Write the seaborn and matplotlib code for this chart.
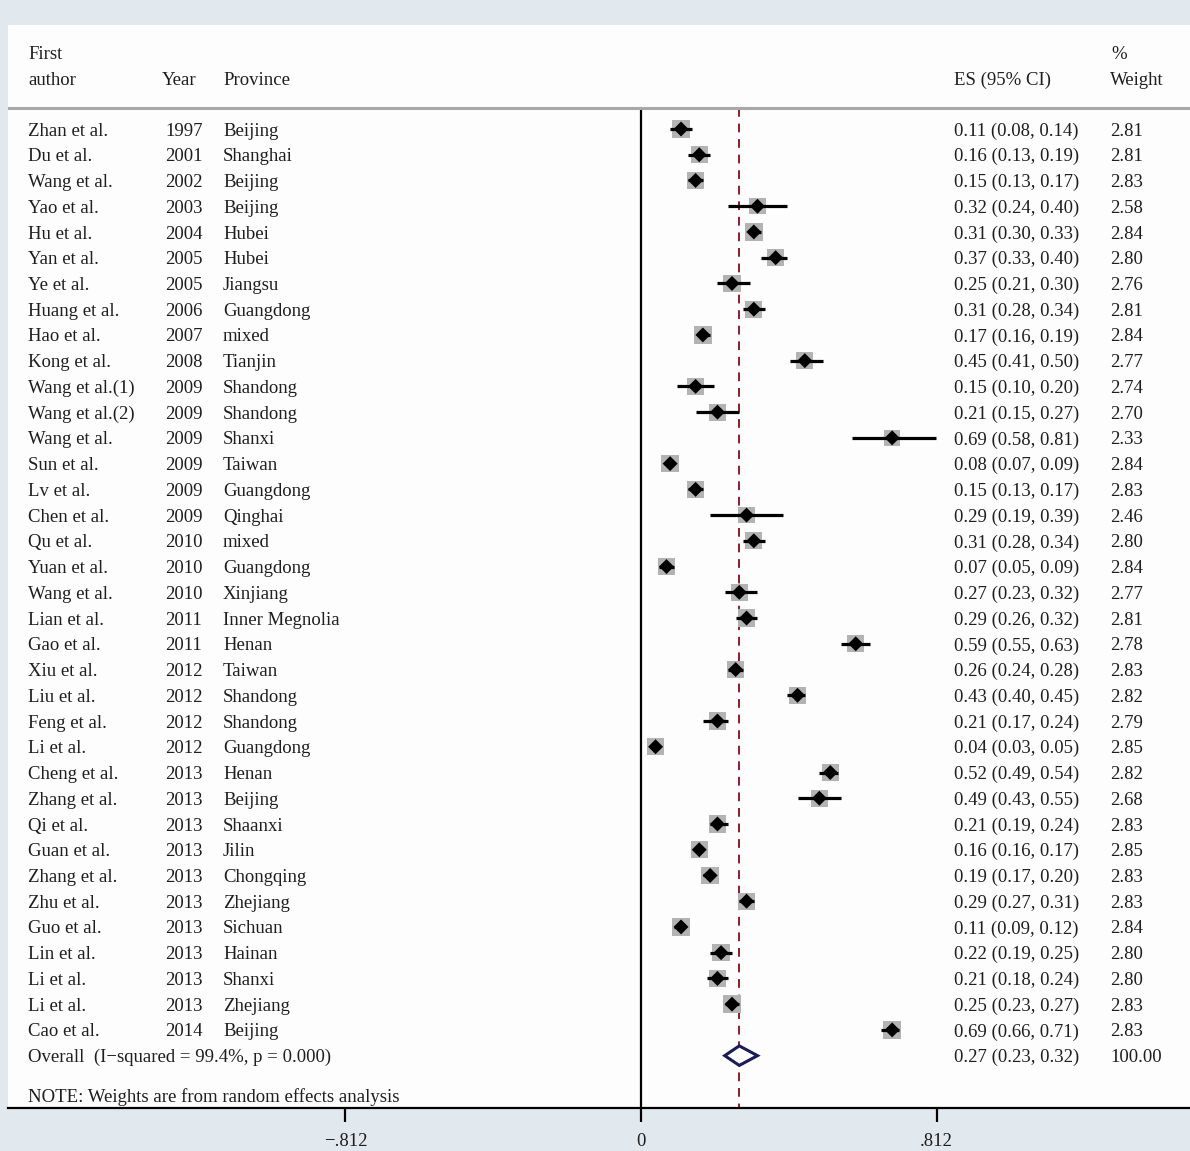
import numpy as np
import pandas as pd
import matplotlib
matplotlib.use("Agg")
import matplotlib.pyplot as plt
import seaborn as sns

# ---- study data ----
authors = ["Zhan et al.", "Du et al.", "Wang et al.", "Yao et al.", "Hu et al.", "Yan et al.",
           "Ye et al.", "Huang et al.", "Hao et al.", "Kong et al.", "Wang et al.(1)",
           "Wang et al.(2)", "Wang et al.", "Sun et al.", "Lv et al.", "Chen et al.",
           "Qu et al.", "Yuan et al.", "Wang et al.", "Lian et al.", "Gao et al.",
           "Xiu et al.", "Liu et al.", "Feng et al.", "Li et al.", "Cheng et al.",
           "Zhang et al.", "Qi et al.", "Guan et al.", "Zhang et al.", "Zhu et al.",
           "Guo et al.", "Lin et al.", "Li et al.", "Li et al.", "Cao et al."]
years = [1997, 2001, 2002, 2003, 2004, 2005, 2005, 2006, 2007, 2008, 2009, 2009, 2009,
         2009, 2009, 2009, 2010, 2010, 2010, 2011, 2011, 2012, 2012, 2012, 2012, 2013,
         2013, 2013, 2013, 2013, 2013, 2013, 2013, 2013, 2013, 2014]
provinces = ["Beijing", "Shanghai", "Beijing", "Beijing", "Hubei", "Hubei", "Jiangsu",
             "Guangdong", "mixed", "Tianjin", "Shandong", "Shandong", "Shanxi", "Taiwan",
             "Guangdong", "Qinghai", "mixed", "Guangdong", "Xinjiang", "Inner Megnolia",
             "Henan", "Taiwan", "Shandong", "Shandong", "Guangdong", "Henan", "Beijing",
             "Shaanxi", "Jilin", "Chongqing", "Zhejiang", "Sichuan", "Hainan", "Shanxi",
             "Zhejiang", "Beijing"]
es = [0.11, 0.16, 0.15, 0.32, 0.31, 0.37, 0.25, 0.31, 0.17, 0.45, 0.15, 0.21, 0.69, 0.08,
      0.15, 0.29, 0.31, 0.07, 0.27, 0.29, 0.59, 0.26, 0.43, 0.21, 0.04, 0.52, 0.49, 0.21,
      0.16, 0.19, 0.29, 0.11, 0.22, 0.21, 0.25, 0.69]
lo = [0.08, 0.13, 0.13, 0.24, 0.30, 0.33, 0.21, 0.28, 0.16, 0.41, 0.10, 0.15, 0.58, 0.07,
      0.13, 0.19, 0.28, 0.05, 0.23, 0.26, 0.55, 0.24, 0.40, 0.17, 0.03, 0.49, 0.43, 0.19,
      0.16, 0.17, 0.27, 0.09, 0.19, 0.18, 0.23, 0.66]
hi = [0.14, 0.19, 0.17, 0.40, 0.33, 0.40, 0.30, 0.34, 0.19, 0.50, 0.20, 0.27, 0.81, 0.09,
      0.17, 0.39, 0.34, 0.09, 0.32, 0.32, 0.63, 0.28, 0.45, 0.24, 0.05, 0.54, 0.55, 0.24,
      0.17, 0.20, 0.31, 0.12, 0.25, 0.24, 0.27, 0.71]
weights = [2.81, 2.81, 2.83, 2.58, 2.84, 2.80, 2.76, 2.81, 2.84, 2.77, 2.74, 2.70, 2.33,
           2.84, 2.83, 2.46, 2.80, 2.84, 2.77, 2.81, 2.78, 2.83, 2.82, 2.79, 2.85, 2.82,
           2.68, 2.83, 2.85, 2.83, 2.83, 2.84, 2.80, 2.80, 2.83, 2.83]

overall_es, overall_lo, overall_hi = 0.27, 0.23, 0.32
overall_label = "Overall  (I\u2212squared = 99.4%, p = 0.000)"
note_text = "NOTE: Weights are from random effects analysis"
tick_vals = [-0.812, 0, 0.812]
tick_labels = ["\u2212.812", "0", ".812"]

df = pd.DataFrame({"author": authors, "year": years, "province": provinces,
                   "es": es, "lo": lo, "hi": hi, "weight": weights})
df["row"] = np.arange(len(df))

sns.set_theme(style="white")
plt.rcParams["font.family"] = ["Liberation Serif", "DejaVu Serif"]
txt_color = "#1e1e1e"
fs = 13.5

W, H = 1190, 1151
fig = plt.figure(figsize=(W / 100, H / 100), dpi=100, facecolor="#e2e9ee")
# white plotting panel
top_px, bot_px, left_px = 25, 1108, 8
ax = fig.add_axes([left_px / W, (H - bot_px) / H, (W - left_px) / W, (bot_px - top_px) / H])
ax.set_facecolor("#fdfdfd")

# data-space layout: x in effect-size units, y in row units
x0_px, unit_px = 641, 364.0
row0_px, row_h = 129, 25.74
ax.set_xlim((left_px - x0_px) / unit_px, (W - x0_px) / unit_px)
ax.set_ylim((bot_px - row0_px) / row_h, (top_px - row0_px) / row_h)

def px2x(p):
    return (p - x0_px) / unit_px

n = len(df)
overall_row = n
header_line_y = (108 - row0_px) / row_h
txt_dy = 0.08  # nudge text baselines slightly below row centres

# reference lines
ax.plot([0, 0], [header_line_y, ax.get_ylim()[0]], color="black", lw=1.6, zorder=1)
ax.plot([overall_es, overall_es], [header_line_y, ax.get_ylim()[0]], color="#8c1d2e",
        lw=1.4, dashes=(4.5, 3.5), zorder=1)
ax.plot([px2x(left_px), px2x(W)], [header_line_y] * 2, color="#a8a8a8", lw=2.2, zorder=1)

# weight boxes
sns.scatterplot(data=df, x="es", y="row", size="weight", sizes=(2.33 * 55, 2.85 * 55),
                size_norm=(2.33, 2.85), marker="s", color="#b3b3b3", edgecolor="none",
                legend=False, ax=ax, zorder=2)
# confidence intervals
ax.hlines(df["row"], df["lo"], df["hi"], color="black", lw=2.3, zorder=3)
# point estimates
sns.scatterplot(data=df, x="es", y="row", marker="D", color="black", s=58,
                edgecolor="none", legend=False, ax=ax, zorder=4)

# pooled diamond
dh = 0.38
ax.fill([overall_lo, overall_es, overall_hi, overall_es],
        [overall_row, overall_row - dh, overall_row, overall_row + dh],
        facecolor="white", edgecolor="#1b1b55", lw=2.2, zorder=4)

# text columns
col_author, col_year, col_prov = px2x(28), px2x(165), px2x(223)
col_es, col_w = px2x(954), px2x(1110)
kw = dict(fontsize=fs, color=txt_color, va="center", ha="left")
for r in df.itertuples():
    y = r.row + txt_dy
    ax.text(col_author, y, r.author, **kw)
    ax.text(col_year, y, str(r.year), **kw)
    ax.text(col_prov, y, r.province, **kw)
    ax.text(col_es, y, f"{r.es:.2f} ({r.lo:.2f}, {r.hi:.2f})", **kw)
    ax.text(col_w, y, f"{r.weight:.2f}", **kw)

ax.text(col_author, overall_row + txt_dy, overall_label, **kw)
ax.text(col_es, overall_row + txt_dy,
        f"{overall_es:.2f} ({overall_lo:.2f}, {overall_hi:.2f})", **kw)
ax.text(col_w, overall_row + txt_dy, "100.00", **kw)
ax.text(col_author, (1095 - row0_px) / row_h + txt_dy, note_text, **kw)

# header
hy1 = (52 - row0_px) / row_h + txt_dy
hy2 = (78 - row0_px) / row_h + txt_dy
ax.text(col_author, hy1, "First", **kw)
ax.text(col_author, hy2, "author", **kw)
ax.text(px2x(162), hy2, "Year", **kw)
ax.text(col_prov, hy2, "Province", **kw)
ax.text(col_es, hy2, "ES (95% CI)", **kw)
ax.text(px2x(1111), hy1, "%", **kw)
ax.text(col_w, hy2, "Weight", **kw)

# axis styling
for s in ["top", "left", "right"]:
    ax.spines[s].set_visible(False)
ax.spines["bottom"].set_color("black")
ax.spines["bottom"].set_linewidth(1.6)
ax.set_yticks([])
ax.set_xticks(tick_vals)
ax.set_xticklabels(tick_labels, fontsize=fs, color=txt_color)
ax.tick_params(axis="x", direction="out", length=10, width=1.6, color="black",
               pad=8, bottom=True)
ax.set_xlabel("")
ax.set_ylabel("")

fig.savefig("out.png", dpi=100, facecolor=fig.get_facecolor())
